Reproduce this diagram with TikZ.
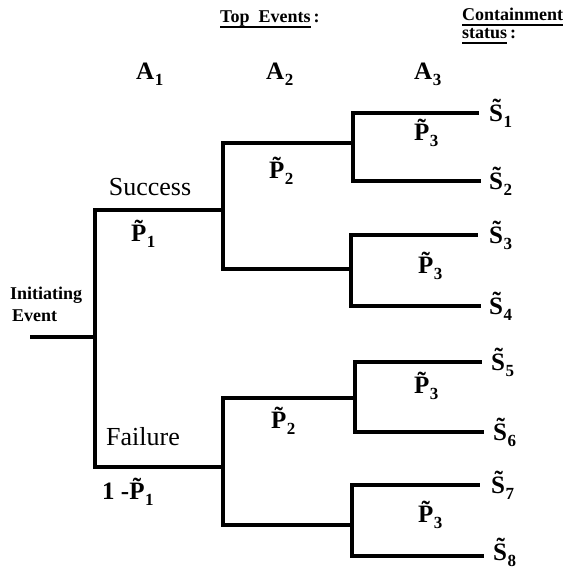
\documentclass[tikz,border=0pt]{standalone}
\usepackage{fontspec}
\setmainfont{Liberation Serif}
\newcommand\lbl[2]{#1\kern0.5pt\raisebox{-6pt}{\fontsize{17}{17}\selectfont #2}}
\newcommand\ulbar[1]{\setbox0\hbox{#1}\rlap{\raisebox{-6pt}{\rule{\wd0}{1.8pt}}}\box0}
\tikzset{
  branch/.style={line width=3.2pt, line join=miter},
  big/.style={font=\fontsize{26}{29}\selectfont, inner sep=0pt},
  bigb/.style={font=\fontsize{25}{28}\selectfont\bfseries, inner sep=0pt},
  small/.style={font=\fontsize{18}{20}\selectfont\bfseries, inner sep=0pt},
}
\begin{document}
\begin{tikzpicture}[x=1pt,y=-1pt]
\useasboundingbox (0,0) rectangle (567,570);
% junctions
\coordinate (r0) at (30,337);
\coordinate (n1) at (95,337);
\coordinate (j2a) at (223,210);
\coordinate (j2b) at (223,467);
\coordinate (j3a) at (353,143);
\coordinate (j3b) at (351,269);
\coordinate (j3c) at (355,398);
\coordinate (j3d) at (352,525);
\coordinate (e1) at (479,113);
\coordinate (e2) at (481,181);
\coordinate (e3) at (478,235);
\coordinate (e4) at (481,306);
\coordinate (e5) at (482,362);
\coordinate (e6) at (484,432);
\coordinate (e7) at (480,485);
\coordinate (e8) at (484,556);
% connectors
\draw[branch] (r0) -- (n1);
\draw[branch] (n1) |- (j2a);
\draw[branch] (n1) |- (j2b);
\draw[branch] (j2a) |- (j3a);
\draw[branch] (j2a) |- (j3b);
\draw[branch] (j2b) |- (j3c);
\draw[branch] (j2b) |- (j3d);
\draw[branch] (j3a) |- (e1);
\draw[branch] (j3a) |- (e2);
\draw[branch] (j3b) |- (e3);
\draw[branch] (j3b) |- (e4);
\draw[branch] (j3c) |- (e5);
\draw[branch] (j3c) |- (e6);
\draw[branch] (j3d) |- (e7);
\draw[branch] (j3d) |- (e8);
% headings
\node[small, anchor=base west] (top) at (220,22) {\ulbar{Top\ \ Events}\,:};
\node[small, anchor=base west] (cont) at (462,20) {\ulbar{Containment}};
\node[small, anchor=base west] (stat) at (462,38) {\ulbar{status}\,:};
\node[bigb, anchor=base west] (a1) at (136,79) {\lbl{A}{1}};
\node[bigb, anchor=base west] (a2) at (266,79) {\lbl{A}{2}};
\node[bigb, anchor=base west] (a3) at (414,79) {\lbl{A}{3}};
% initiating event
\node[small, anchor=base west] (init) at (10,299) {Initiating};
\node[small, anchor=base west] (ev) at (12,321) {Event};
% branch labels
\node[big, anchor=base] (succ) at (150,195) {Success};
\node[bigb, anchor=base west] (p1) at (131,241) {\lbl{\~P}{1}};
\node[big, anchor=base] (fail) at (143,445) {Failure};
\node[bigb, anchor=base west] (q1) at (102,499) {1 -\lbl{\~P}{1}};
\node[bigb, anchor=base west] (p2a) at (269,178) {\lbl{\~P}{2}};
\node[bigb, anchor=base west] (p2b) at (271,428) {\lbl{\~P}{2}};
\node[bigb, anchor=base west] (p3a) at (414,140) {\lbl{\~P}{3}};
\node[bigb, anchor=base west] (p3b) at (418,273) {\lbl{\~P}{3}};
\node[bigb, anchor=base west] (p3c) at (414,393) {\lbl{\~P}{3}};
\node[bigb, anchor=base west] (p3d) at (418,522) {\lbl{\~P}{3}};
% containment states
\node[bigb, anchor=base west] (s1) at (489,121) {\lbl{\~S}{1}};
\node[bigb, anchor=base west] (s2) at (489,189) {\lbl{\~S}{2}};
\node[bigb, anchor=base west] (s3) at (489,243) {\lbl{\~S}{3}};
\node[bigb, anchor=base west] (s4) at (489,314) {\lbl{\~S}{4}};
\node[bigb, anchor=base west] (s5) at (491,370) {\lbl{\~S}{5}};
\node[bigb, anchor=base west] (s6) at (493,440) {\lbl{\~S}{6}};
\node[bigb, anchor=base west] (s7) at (491,493) {\lbl{\~S}{7}};
\node[bigb, anchor=base west] (s8) at (493,560) {\lbl{\~S}{8}};
\end{tikzpicture}
\end{document}
